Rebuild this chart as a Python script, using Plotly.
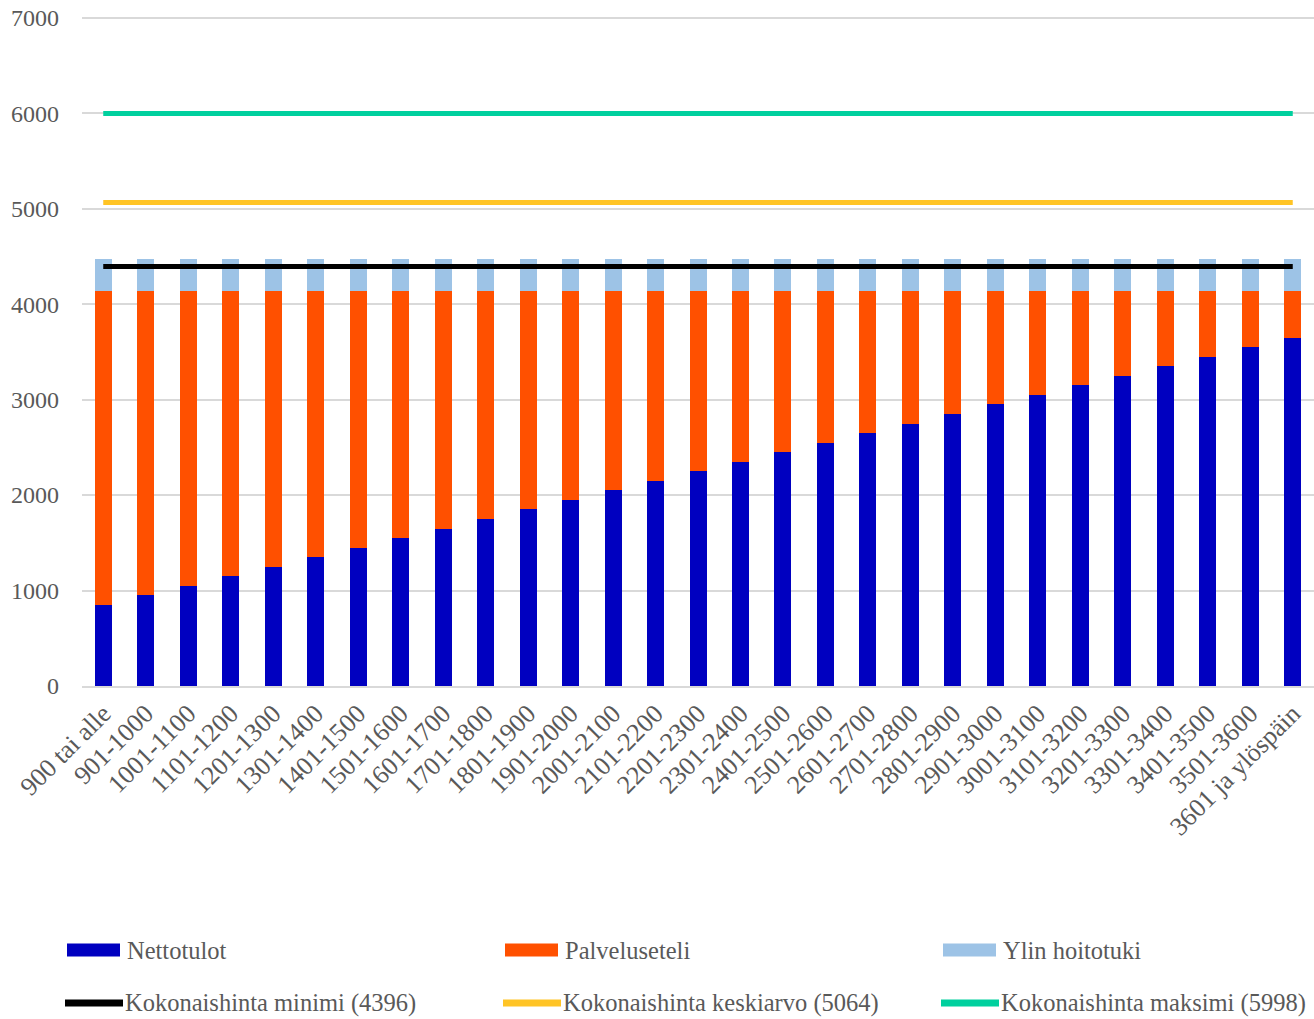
import plotly.graph_objects as go

categories = ["900 tai alle", "901-1000", "1001-1100", "1101-1200", "1201-1300", "1301-1400",
              "1401-1500", "1501-1600", "1601-1700", "1701-1800", "1801-1900", "1901-2000",
              "2001-2100", "2101-2200", "2201-2300", "2301-2400", "2401-2500", "2501-2600",
              "2601-2700", "2701-2800", "2801-2900", "2901-3000", "3001-3100", "3101-3200",
              "3201-3300", "3301-3400", "3401-3500", "3501-3600", "3601 ja ylöspäin"]
nettotulot = [850, 950, 1050, 1150, 1250, 1350, 1450, 1550, 1650, 1750, 1850, 1950, 2050, 2150,
              2250, 2350, 2450, 2550, 2650, 2750, 2850, 2950, 3050, 3150, 3250, 3350, 3450, 3550, 3650]
palveluseteli = [3290, 3190, 3090, 2990, 2890, 2790, 2690, 2590, 2490, 2390, 2290, 2190, 2090, 1990,
                 1890, 1790, 1690, 1590, 1490, 1390, 1290, 1190, 1090, 990, 890, 790, 690, 590, 490]
ylin_hoitotuki = [330] * 29
kok_min = 4396
kok_ka = 5064
kok_max = 5998

C_NET = "#0000C0"
C_PAL = "#FF5000"
C_YLI = "#9DC3E6"
C_MIN = "#000000"
C_KA = "#FFC425"
C_MAX = "#00D09E"
FONT = "Liberation Serif"
GRAY = "#595959"

W, H = 1314, 1019
L, R, B = 82, 0, 333
YMAX = 7040
PH = 668 * YMAX / 7000  # plot height so that 1000 units = 95.43 px
T = H - B - PH

fig = go.Figure()
fig.add_bar(x=categories, y=nettotulot, name="Nettotulot", marker=dict(color=C_NET, line=dict(width=0)))
fig.add_bar(x=categories, y=palveluseteli, name="Palveluseteli", marker=dict(color=C_PAL, line=dict(width=0)))
fig.add_bar(x=categories, y=ylin_hoitotuki, name="Ylin hoitotuki", marker=dict(color=C_YLI, line=dict(width=0)))
for v, c, n in [(kok_min, C_MIN, "Kokonaishinta minimi"), (kok_ka, C_KA, "Kokonaishinta keskiarvo"),
                (kok_max, C_MAX, "Kokonaishinta maksimi")]:
    fig.add_scatter(x=categories, y=[v] * len(categories), mode="lines",
                    line=dict(color=c, width=5), name=f"{n} ({v})")

fig.update_layout(
    width=W, height=H, barmode="stack", bargap=0.6,
    margin=dict(l=L, r=R, t=T, b=B, autoexpand=False),
    plot_bgcolor="white", paper_bgcolor="white",
    showlegend=False,
    font=dict(family=FONT, color=GRAY, size=24),
)
fig.update_xaxes(tickangle=-45, tickfont=dict(size=26, family=FONT, color=GRAY),
                 showline=True, linecolor="#D9D9D9", linewidth=2, ticks="",
                 range=[-0.5, 28.5], showgrid=False, automargin=False)
fig.update_yaxes(range=[0, YMAX], tickvals=[0, 1000, 2000, 3000, 4000, 5000, 6000, 7000],
                 showgrid=True, gridcolor="#D9D9D9", gridwidth=2,
                 zeroline=False, tickfont=dict(size=24, family=FONT, color=GRAY), ticks="",
                 ticklabelstandoff=22, automargin=False, ticklabeloverflow="allow")

# custom legend: pixel positions converted to paper coordinates
pw = W - L - R
ph = H - T - B
def px(x):
    return (x - L) / pw
def py(y):
    return (H - B - y) / ph

legend = [
    ("Nettotulot", C_NET, "rect", 67, 950),
    ("Palveluseteli", C_PAL, "rect", 505, 950),
    ("Ylin hoitotuki", C_YLI, "rect", 943, 950),
    (f"Kokonaishinta minimi ({kok_min})", C_MIN, "line", 65, 1003),
    (f"Kokonaishinta keskiarvo ({kok_ka})", C_KA, "line", 503, 1003),
    (f"Kokonaishinta maksimi ({kok_max})", C_MAX, "line", 941, 1003),
]
for text, col, kind, x0, yc in legend:
    if kind == "rect":
        fig.add_shape(type="rect", xref="paper", yref="paper", x0=px(x0), x1=px(x0 + 53),
                      y0=py(yc - 6.5), y1=py(yc + 6.5), fillcolor=col, line=dict(width=0))
    else:
        fig.add_shape(type="line", xref="paper", yref="paper", x0=px(x0), x1=px(x0 + 58),
                      y0=py(yc), y1=py(yc), line=dict(color=col, width=7))
    fig.add_annotation(text=text, xref="paper", yref="paper", x=px(x0 + 58), y=py(yc),
                       xanchor="left", yanchor="middle", showarrow=False,
                       font=dict(size=24.5, family=FONT, color=GRAY))

fig.write_html("out.html", config={"displayModeBar": False},
               post_script="document.body.style.margin='0';document.body.style.overflow='hidden';")
